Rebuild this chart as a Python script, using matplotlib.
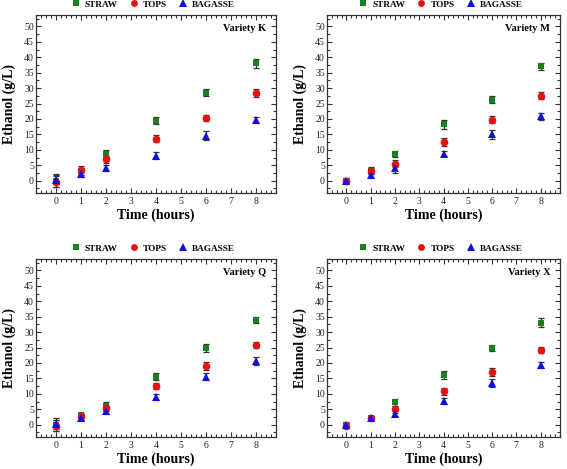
import matplotlib
matplotlib.use("Agg")
import matplotlib.pyplot as plt
from matplotlib.ticker import MultipleLocator
import numpy as np

plt.rcParams['font.family'] = ['Liberation Serif', 'DejaVu Serif']

time_h = [0, 1, 2, 4, 6, 8]
series_names = ["STRAW", "TOPS", "BAGASSE"]

varieties = ["Variety K", "Variety M", "Variety Q", "Variety X"]

straw_K = [0.0, 3.0, 8.8, 19.5, 28.5, 38.0]
tops_K = [-0.3, 3.6, 6.9, 13.6, 20.4, 28.5]
bagasse_K = [0.3, 2.2, 4.1, 8.1, 14.6, 19.6]
straw_K_err = [2.0, 1.2, 1.2, 1.0, 1.2, 1.5]
tops_K_err = [1.8, 1.2, 1.2, 1.2, 1.0, 1.3]
bagasse_K_err = [1.5, 1.0, 1.0, 1.2, 1.5, 1.0]

straw_M = [0.0, 3.2, 8.6, 18.3, 26.3, 37.1]
tops_M = [-0.2, 3.2, 5.5, 12.4, 19.8, 27.6]
bagasse_M = [0.0, 1.8, 4.1, 8.8, 15.0, 20.8]
straw_M_err = [0.8, 1.2, 1.0, 1.5, 1.0, 1.2]
tops_M_err = [0.6, 1.0, 1.2, 1.3, 1.0, 1.0]
bagasse_M_err = [0.5, 0.8, 1.5, 0.8, 1.5, 1.0]

straw_Q = [0.0, 3.0, 6.0, 15.6, 25.0, 33.8]
tops_Q = [-0.3, 2.8, 5.3, 12.4, 18.9, 25.9]
bagasse_Q = [0.1, 2.0, 4.5, 9.1, 15.6, 20.7]
straw_Q_err = [2.0, 0.8, 1.2, 1.2, 1.3, 1.0]
tops_Q_err = [1.8, 0.8, 1.0, 1.0, 1.3, 1.0]
bagasse_Q_err = [1.5, 0.6, 1.2, 1.0, 1.0, 1.2]

straw_X = [0.0, 2.3, 7.2, 16.1, 24.9, 33.1]
tops_X = [-0.3, 2.3, 5.1, 10.8, 17.1, 24.1]
bagasse_X = [-0.2, 2.2, 3.3, 7.8, 13.5, 19.3]
straw_X_err = [0.8, 0.6, 1.0, 1.2, 1.0, 1.5]
tops_X_err = [0.8, 0.6, 0.8, 1.2, 1.2, 1.0]
bagasse_X_err = [0.8, 0.6, 0.6, 1.0, 1.2, 1.0]

data = {
    "Variety K": ([straw_K, tops_K, bagasse_K], [straw_K_err, tops_K_err, bagasse_K_err]),
    "Variety M": ([straw_M, tops_M, bagasse_M], [straw_M_err, tops_M_err, bagasse_M_err]),
    "Variety Q": ([straw_Q, tops_Q, bagasse_Q], [straw_Q_err, tops_Q_err, bagasse_Q_err]),
    "Variety X": ([straw_X, tops_X, bagasse_X], [straw_X_err, tops_X_err, bagasse_X_err]),
}

colors = ["#1e7d1e", "#e81010", "#1010d8"]
markers = ["s", "o", "^"]
msizes = [5, 5.5, 6]

W, H = 567, 469
fig = plt.figure(figsize=(W / 100, H / 100), dpi=100)

boxes = [
    (36, 15, 276, 193),
    (327, 15, 560, 193),
    (36, 259, 276, 437),
    (327, 259, 560, 437),
]

for name, (x0, y0, x1, y1) in zip(varieties, boxes):
    ax = fig.add_axes([x0 / W, 1 - y1 / H, (x1 - x0) / W, (y1 - y0) / H])
    vals, errs = data[name]
    handles = []
    for v, e, c, m, ms, lab in zip(vals, errs, colors, markers, msizes, series_names):
        ax.errorbar(time_h, v, yerr=e, fmt='none', ecolor='#333333', elinewidth=0.9,
                    capsize=2, capthick=0.9, zorder=2)
        h = ax.plot(time_h, v, linestyle='none', marker=m, color=c, markersize=ms,
                    markeredgewidth=0, label=lab, zorder=3)[0]
        handles.append(h)
    ax.set_xlim(-0.8, 8.8)
    ax.set_ylim(-4, 53.7)
    ax.xaxis.set_major_locator(MultipleLocator(1))
    ax.xaxis.set_minor_locator(MultipleLocator(0.2))
    ax.yaxis.set_minor_locator(MultipleLocator(2.5))
    ax.set_yticks(np.arange(0, 51, 5))
    ax.tick_params(which='both', direction='in', top=True, right=True, colors='#333333',
                   labelcolor='#222222', labelsize=7, width=0.8)
    ax.tick_params(which='major', length=3.5, pad=3)
    ax.tick_params(which='minor', length=2)
    ax.tick_params(axis='y', which='major', pad=1.5)
    for s in ax.spines.values():
        s.set_linewidth(0.9)
        s.set_color('#333333')
    ax.set_xlabel("Time (hours)", fontsize=10, fontweight='bold', labelpad=2)
    ax.set_ylabel("Ethanol (g/L)", fontsize=10, fontweight='bold', labelpad=6)
    ax.text(0.958, 0.925, name, transform=ax.transAxes, ha='right', va='center',
            fontsize=7.5, fontweight='bold')
    ax.legend(handles=handles, loc='center', bbox_to_anchor=(0.49, 1.06), ncol=3,
              frameon=False, prop={'weight': 'bold', 'size': 6.7}, handlelength=0.8,
              handletextpad=0.6, columnspacing=1.3, borderaxespad=0.0, borderpad=0.05,
              markerscale=0.9)

fig.savefig("out.png", dpi=100)
